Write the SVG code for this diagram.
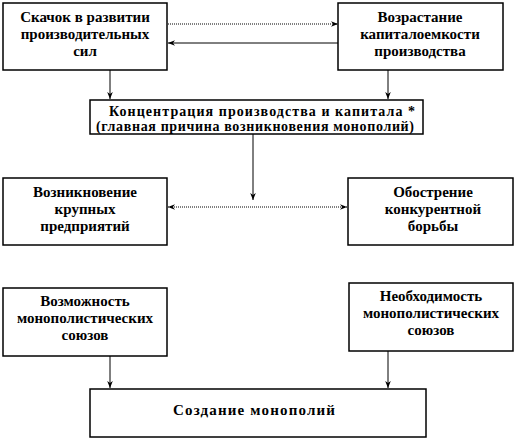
<svg xmlns="http://www.w3.org/2000/svg" width="515" height="441" viewBox="0 0 515 441">
<style>
.box{fill:#fff;stroke:#000;stroke-width:1.5}
text{font-family:"Liberation Serif","Times New Roman",serif;font-weight:bold;font-size:15px;text-anchor:middle;fill:#000}
.sm{font-size:14px}
.c{fill:none;stroke:#000;stroke-width:1}
.dot{stroke-dasharray:1 1}
</style>
<defs>
<marker id="ah" viewBox="0 0 10 10" refX="10" refY="5" markerWidth="7" markerHeight="7" orient="auto" markerUnits="userSpaceOnUse">
<path d="M0,1 L10,5 L0,9 L3,5 Z" fill="#000"/>
</marker>
<marker id="as" viewBox="0 0 10 10" refX="0" refY="5" markerWidth="7" markerHeight="7" orient="auto" markerUnits="userSpaceOnUse">
<path d="M10,1 L0,5 L10,9 L7,5 Z" fill="#000"/>
</marker>
</defs>
<g id="connectors">
<line class="c dot" x1="168" y1="24" x2="338" y2="24" marker-end="url(#ah)"/>
<line class="c" x1="338" y1="43" x2="168" y2="43" marker-end="url(#ah)"/>
<line class="c" x1="110" y1="70" x2="110" y2="99" marker-end="url(#ah)"/>
<line class="c" x1="388" y1="70" x2="388" y2="99" marker-end="url(#ah)"/>
<line class="c" x1="253" y1="134" x2="253" y2="200" marker-end="url(#ah)"/>
<line class="c dot" x1="168" y1="207" x2="347" y2="207" marker-start="url(#as)" marker-end="url(#ah)"/>
<line class="c" x1="110" y1="356" x2="110" y2="388" marker-end="url(#ah)"/>
<line class="c" x1="388" y1="351" x2="388" y2="388" marker-end="url(#ah)"/>
</g>
<g id="n1">
<rect class="box" x="3" y="3" width="164" height="67"/>
<text x="85" y="22">Скачок в развитии</text>
<text x="85" y="39">производительных</text>
<text x="85" y="56">сил</text>
</g>
<g id="n2">
<rect class="box" x="338" y="3" width="165" height="67"/>
<text x="420" y="22">Возрастание</text>
<text x="420" y="39">капиталоемкости</text>
<text x="420" y="56">производства</text>
</g>
<g id="n3">
<rect class="box" x="90" y="100" width="333" height="34"/>
<text class="sm" x="262" y="116" textLength="306" lengthAdjust="spacing">Концентрация производства и капитала *</text>
<text class="sm" x="255" y="131" textLength="318" lengthAdjust="spacing">(главная причина возникновения монополий)</text>
</g>
<g id="n4">
<rect class="box" x="3" y="178" width="164" height="67"/>
<text x="85" y="197">Возникновение</text>
<text x="85" y="214">крупных</text>
<text x="85" y="231">предприятий</text>
</g>
<g id="n5">
<rect class="box" x="348" y="178" width="165" height="67"/>
<text x="433" y="197">Обострение</text>
<text x="433" y="214">конкурентной</text>
<text x="433" y="231">борьбы</text>
</g>
<g id="n6">
<rect class="box" x="3" y="288" width="164" height="68"/>
<text x="85" y="306">Возможность</text>
<text x="85" y="323">монополистических</text>
<text x="85" y="340">союзов</text>
</g>
<g id="n7">
<rect class="box" x="349" y="283" width="164" height="68"/>
<text x="431" y="301">Необходимость</text>
<text x="431" y="318">монополистических</text>
<text x="431" y="335">союзов</text>
</g>
<g id="n8">
<rect class="box" x="90" y="389" width="336" height="48"/>
<text x="254" y="415" textLength="162" lengthAdjust="spacing">Создание монополий</text>
</g>
</svg>
